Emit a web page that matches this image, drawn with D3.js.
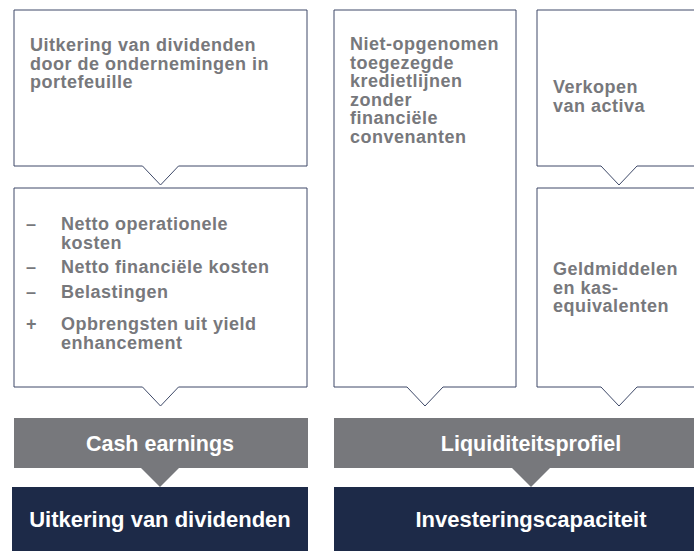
<!DOCTYPE html>
<meta charset="utf-8">
<style>
  body { margin: 0; background: #fff; }
  svg { display: block; font-family: "Liberation Sans", Arial, sans-serif; font-weight: bold; }
  .box path { fill: #fff; stroke: #3e4968; stroke-width: 1; }
  .box text { fill: #77787c; font-size: 18px; letter-spacing: 0.5px; }
  .bar text { fill: #fff; text-anchor: middle; }
</style>
<svg width="694" height="551"></svg>
<script src="https://d3js.org/d3.v7.min.js"></script>
<script>

  // content of the diagram
  var columns = ["cash", "liquidity"];
  var boxLabels = [
    ["Uitkering van dividenden", "door de ondernemingen in", "portefeuille"],
    ["Niet-opgenomen", "toegezegde", "kredietlijnen", "zonder", "financiële", "convenanten"],
    ["Verkopen", "van activa"],
    ["Geldmiddelen", "en kas-", "equivalenten"]
  ];
  var costSigns = ["–", "–", "–", "+"];
  var costLabels = [
    ["Netto operationele", "kosten"],
    ["Netto financiële kosten"],
    ["Belastingen"],
    ["Opbrengsten uit yield", "enhancement"]
  ];
  var greyLabels = ["Cash earnings", "Liquiditeitsprofiel"];
  var navyLabels = ["Uitkering van dividenden", "Investeringscapaciteit"];

  var svg = d3.select("svg"),
    width = +svg.attr("width"),
    height = +svg.attr("height");

  var grey = "#77787c", navy = "#1d2a48";
  var notchW = 18, notchD = 19, lineH = 18.6;

  // horizontal slots of the page
  var x = d3.scaleOrdinal()
    .domain(["left", "mid", "right"])
    .range([[14, 307], [334, 516], [537, 701]]);

  var topY = 10, splitY = 166, lowY = 188, boxBottom = 387;
  var barY = 418, barH = 50, navyY = 487;

  function notchBox(x0, x1, y0, y1) {
    var cx = (x0 + x1) / 2;
    var p = d3.path();
    p.moveTo(x0, y0);
    p.lineTo(x1, y0);
    p.lineTo(x1, y1);
    p.lineTo(cx + notchW, y1);
    p.lineTo(cx, y1 + notchD);
    p.lineTo(cx - notchW, y1);
    p.lineTo(x0, y1);
    p.closePath();
    return p.toString();
  }

  function addLines(g, lines, tx, baseline) {
    var t = g.append("text").attr("x", tx).attr("y", baseline);
    t.selectAll("tspan")
      .data(lines)
      .enter().append("tspan")
      .attr("x", tx)
      .attr("dy", function (d, i) { return i ? lineH : 0; })
      .text(function (d) { return d; });
  }

  var boxes = [
    { slot: "left", y0: topY, y1: splitY, lines: boxLabels[0], ty: 51 },
    { slot: "mid", y0: topY, y1: boxBottom, lines: boxLabels[1], ty: 50 },
    { slot: "right", y0: topY, y1: splitY, lines: boxLabels[2], ty: 93 },
    { slot: "right", y0: lowY, y1: boxBottom, lines: boxLabels[3], ty: 275 }
  ];

  var boxG = svg.append("g").attr("class", "box");

  // the cost box under the dividends box
  var costBox = boxG.append("g");
  costBox.append("path").attr("d", notchBox(x("left")[0], x("left")[1], lowY, boxBottom));
  var costY = [230, 273, 298, 330];
  costLabels.forEach(function (lines, i) {
    costBox.append("text").attr("x", 26).attr("y", costY[i]).text(costSigns[i]);
    addLines(costBox, lines, 61, costY[i]);
  });

  boxes.forEach(function (b) {
    var g = boxG.append("g");
    var xs = x(b.slot);
    g.append("path").attr("d", notchBox(xs[0], xs[1], b.y0, b.y1));
    addLines(g, b.lines, xs[0] + 16, b.ty);
  });

  // grey summary bars and navy result bars
  var barX = d3.scaleOrdinal().domain(columns).range([[14, 308], [334, 720]]);
  var tipX = d3.scaleOrdinal().domain(columns).range([160, 531]);

  var bar = svg.append("g").attr("class", "bar")
    .selectAll("g")
    .data(columns)
    .enter().append("g");

  bar.append("rect")
    .attr("x", function (d) { return barX(d)[0]; })
    .attr("y", barY)
    .attr("width", function (d) { return barX(d)[1] - barX(d)[0]; })
    .attr("height", barH)
    .attr("fill", grey);

  bar.append("path")
    .attr("fill", grey)
    .attr("d", function (d) {
      var c = tipX(d);
      return "M" + (c - notchW - 1) + "," + (barY + barH) + "L" + c + "," + navyY +
        "L" + (c + notchW + 1) + "," + (barY + barH) + "Z";
    });

  bar.append("rect")
    .attr("x", function (d, i) { return barX(d)[0] - (i ? 0 : 2); })
    .attr("y", navyY)
    .attr("width", function (d, i) { return barX(d)[1] - barX(d)[0] + (i ? 0 : 2); })
    .attr("height", height - navyY)
    .attr("fill", navy);

  bar.append("text")
    .attr("x", function (d) { return tipX(d); })
    .attr("y", barY + 33)
    .style("font-size", "21.5px")
    .text(function (d, i) { return greyLabels[i]; });

  bar.append("text")
    .attr("x", function (d) { return tipX(d); })
    .attr("y", navyY + 40)
    .style("font-size", "22px")
    .text(function (d, i) { return navyLabels[i]; });

</script>
